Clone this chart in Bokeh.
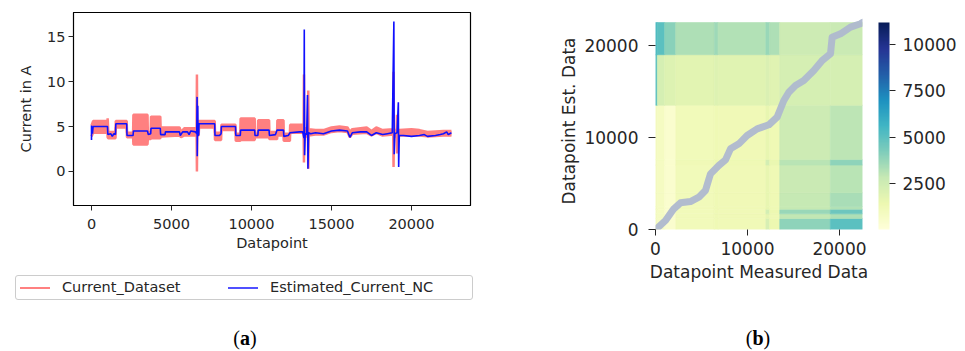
import numpy as np
from bokeh.plotting import figure
from bokeh.layouts import row, column
from bokeh.models import (ColumnDataSource, FixedTicker, Div,
                          LinearColorMapper, ColorBar, Range1d)
from bokeh.palettes import YlGnBu9
from bokeh.embed import file_html
from bokeh.resources import INLINE

# ---------------- Panel (a) data ----------------
blue_x = [0, 0, 60, 100, 1000, 1020, 1200, 1300, 1400, 1500, 1520, 2200, 2220, 2600, 2620, 3500,
          3550, 3700, 3720, 4300, 4320, 4600, 4620, 5500, 5550, 5700, 6000, 6100, 6200, 6500,
          6580, 6600, 6610, 6640, 6660, 6700, 6720, 7700, 7720, 8000, 8100, 8120, 9000, 9020,
          9300, 9320, 10200, 10220, 10400, 10420, 11100, 11120, 11500, 11600, 12000, 12020,
          12300, 12400, 13000, 13200, 13280, 13300, 13320, 13360, 13450, 13500, 13530, 13570,
          13700, 14000, 14500, 15000, 15500, 16000, 16150, 16300, 16800, 17200, 17500, 17800,
          18200, 18500, 18800, 18900, 18920, 18960, 19100, 19180, 19200, 19240, 19500, 20000,
          20500, 20800, 21000, 21500, 21800, 22000, 22200, 22300, 22500]
blue_y = [3.5, 5.1, 4.2, 5.0, 5.0, 4.1, 4.2, 3.9, 4.2, 4.1, 5.3, 5.3, 4.0, 4.0, 4.5, 4.5,
          4.1, 4.2, 4.8, 4.8, 4.1, 4.1, 4.4, 4.4, 4.0, 4.4, 4.4, 4.1, 4.5, 4.4,
          4.2, 8.3, 1.7, 7.3, 4.0, 4.1, 5.3, 5.3, 4.0, 4.0, 4.2, 5.0, 5.0, 4.0,
          4.0, 4.6, 4.6, 4.0, 4.0, 4.6, 4.6, 4.0, 4.1, 4.6, 4.6, 3.9,
          4.0, 4.3, 4.4, 4.4, 3.7, 15.8, 1.8, 4.2, 4.1, 8.5, 0.3, 4.3,
          4.2, 4.3, 4.2, 4.5, 4.6, 4.5, 3.8, 4.3, 4.4, 4.4, 4.0, 4.3,
          4.1, 4.2, 4.3, 16.7, 1.9, 4.2, 4.3, 7.7, 0.5, 4.0, 4.0, 3.9,
          4.0, 4.1, 3.9, 4.0, 4.1, 4.2, 4.4, 4.1, 4.3]

red_x = [0, 100, 1000, 1010, 1050, 1500, 1520, 2200, 2220, 2600, 2620, 3500, 3520, 3700, 3720,
         4300, 4320, 5500, 5600, 5800, 6570, 6590, 6610, 6700, 6720, 7700, 7720, 8100, 8120,
         9000, 9020, 9300, 9320, 10200, 10220, 10400, 10420, 11100, 11120, 11600, 11620, 12000,
         12020, 12400, 12420, 13200, 13260, 13280, 13300, 13480, 13530, 13550, 13570, 14000,
         14500, 15000, 15500, 16000, 16150, 16300, 17200, 17500, 17800, 18200, 18860, 18880,
         18900, 19080, 19100, 19150, 19250, 20000, 20500, 21000, 22000, 22500]
red_lo = [3.9, 4.3, 4.3, 3.8, 3.7, 3.7, 4.9, 4.9, 3.8, 3.8, 3.0, 3.0, 3.6, 3.6, 3.7,
          3.7, 3.9, 4.0, 3.8, 4.0, 4.0, 0.0, 4.0, 4.0, 4.9, 4.9, 3.5, 3.5, 4.6,
          4.6, 3.4, 3.4, 3.5, 3.5, 3.8, 3.8, 3.8, 3.8, 3.6, 3.6, 4.0, 4.0,
          3.4, 3.4, 4.3, 4.3, 4.3, 1.0, 3.9, 3.9, 3.9, 0.3, 4.0, 4.1,
          4.1, 4.4, 4.5, 4.4, 3.8, 4.2, 4.3, 4.0, 4.3, 4.0, 4.1, 0.5,
          3.9, 3.9, 2.0, 3.9, 4.0, 4.0, 4.0, 3.9, 4.0, 4.0]
red_hi = [5.1, 5.6, 5.6, 5.9, 4.4, 4.4, 5.6, 5.6, 4.3, 4.3, 6.3, 6.3, 4.4, 4.4, 6.1,
          6.1, 4.9, 4.9, 4.4, 4.8, 4.8, 10.8, 4.6, 4.6, 5.6, 5.6, 4.3, 4.3, 5.2,
          5.2, 4.2, 4.2, 5.9, 5.9, 4.2, 4.2, 5.7, 5.7, 4.4, 4.4, 5.7, 5.7,
          4.2, 4.2, 5.2, 5.2, 5.2, 10.8, 4.8, 4.8, 4.8, 9.0, 4.7, 4.6,
          4.6, 4.9, 5.0, 4.9, 4.4, 4.7, 4.9, 4.5, 4.9, 4.6, 4.7, 11.1,
          4.6, 4.6, 6.3, 4.6, 4.6, 4.7, 4.6, 4.4, 4.5, 4.5]

a_xticks = [0, 5000, 10000, 15000, 20000]
a_yticks = [0, 5, 10, 15]
series_names = ["Current_Dataset", "Estimated_Current_NC"]
caption_letters = ["a", "b"]

# ---------------- Panel (b) data ----------------
hm_x_edges = [0, 200, 1000, 2200, 6400, 6800, 12000, 12400, 13500, 19000, 22500]
hm_y_edges = [0, 1200, 1700, 2200, 2500, 4000, 7000, 7600, 13500, 19000, 22500]
hm_values = [  # rows from bottom (y=0) to top
    [900, 800, 400, 1100, 1300, 1200, 2200, 1400, 3900, 5000],
    [900, 800, 400, 1100, 1300, 1200, 1700, 1300, 2900, 3300],
    [900, 800, 400, 1100, 1300, 1200, 2400, 1400, 3700, 4600],
    [900, 800, 400, 1100, 1300, 1200, 1600, 1300, 2800, 3200],
    [900, 800, 400, 1100, 1300, 1200, 1600, 1300, 2800, 3400],
    [900, 800, 400, 1100, 1300, 1200, 1600, 1300, 2700, 3100],
    [900, 800, 400, 1200, 1400, 1300, 2400, 1500, 3100, 3900],
    [900, 800, 400, 1100, 1300, 1200, 1600, 1300, 2600, 3000],
    [5000, 2300, 2000, 1800, 2000, 1900, 2100, 1900, 2300, 2300],
    [5300, 5000, 4000, 3300, 3600, 3200, 3700, 3300, 2600, 2700],
]
path_x = [0, 180, 1090, 1990, 2720, 3800, 4710, 5430, 5980, 6880, 7610, 8150, 9060, 9960, 11050,
          12320, 13220, 13950, 14490, 15220, 16120, 17210, 18120, 19020, 19200, 20110, 21200,
          22280, 22500]
path_y = [0, 140, 980, 2250, 2900, 3040, 3510, 4240, 6050, 6960, 7570, 8770, 9310, 10220, 10940,
          11380, 12210, 14020, 14920, 15650, 16200, 17280, 18370, 19100, 20900, 21270, 22000,
          22360, 22500]
b_max = 22500
b_ticks = [0, 10000, 20000]
cb_ticks = [2500, 5000, 7500, 10000]
cb_low, cb_high = 0, 11200

TXT = "#262626"
RED = "#ff8080"
BLUE = "#1010ff"


def interp_palette(pal, n=256):
    rgb = np.array([[int(c[i:i + 2], 16) for i in (1, 3, 5)] for c in pal], float)
    t = np.linspace(0, 1, len(pal))
    tt = np.linspace(0, 1, n)
    ch = [np.interp(tt, t, rgb[:, k]) for k in range(3)]
    return ["#%02x%02x%02x" % (int(round(ch[0][i])), int(round(ch[1][i])), int(round(ch[2][i])))
            for i in range(n)]


def style_axis(ax, size):
    ax.major_label_text_font = "DejaVu Sans"
    ax.major_label_text_font_size = size
    ax.major_label_text_color = TXT
    ax.axis_label_text_font = "DejaVu Sans"
    ax.axis_label_text_font_size = size
    ax.axis_label_text_font_style = "normal"
    ax.axis_label_text_color = TXT
    ax.minor_tick_line_color = None
    ax.major_tick_in = 0
    ax.major_tick_out = 5
    ax.major_tick_line_color = TXT


def caption_html(letter, center_x, top, width):
    return ('<div style="position:absolute;left:%dpx;top:%dpx;width:%dpx;text-align:center;'
            'font-family:\'Liberation Serif\';font-size:20px;line-height:23px;color:black;">'
            '(<b>%s</b>)</div>' % (center_x - width // 2, top, width, letter))


# ---------------- Panel (a) ----------------
A_W, A_H = 500, 261
pa = figure(frame_width=397, frame_height=193, min_border_left=73, min_border_right=30,
            min_border_top=12, min_border_bottom=56, x_range=Range1d(-1125, 23690),
            y_range=Range1d(-3.8, 17.7), output_backend="svg", toolbar_location=None)
pa.xgrid.visible = False
pa.ygrid.visible = False
pa.outline_line_color = "black"
pa.outline_line_alpha = 1
pa.outline_line_width = 1.2
style_axis(pa.xaxis[0], "14.5px")
style_axis(pa.yaxis[0], "14.5px")
pa.xaxis.ticker = FixedTicker(ticks=a_xticks)
pa.yaxis.ticker = FixedTicker(ticks=a_yticks)
pa.xaxis.axis_label = "Datapoint"
pa.yaxis.axis_label = "Current in A"
pa.xaxis.major_label_standoff = 8
pa.xaxis.axis_label_standoff = 3
pa.yaxis.major_label_standoff = 3
pa.yaxis.axis_label_standoff = 10
pa.xaxis.axis_line_color = "black"
pa.yaxis.axis_line_color = "black"

red_src = ColumnDataSource(dict(x=red_x, lo=red_lo, hi=red_hi))
pa.varea(x="x", y1="lo", y2="hi", source=red_src, fill_color=RED, fill_alpha=1)
pa.line("x", "hi", source=red_src, line_color=RED, line_width=2.5)
pa.line("x", "lo", source=red_src, line_color=RED, line_width=2.5)
pa.line(blue_x, blue_y, line_color=BLUE, line_width=1.6)

# legend + caption below panel (a)
leg_html = (
    '<div style="position:relative;width:500px;height:90px;font-family:\'DejaVu Sans\';">'
    '<div style="position:absolute;left:15px;top:14px;width:458px;height:25px;'
    'border:1px solid #cccccc;border-radius:3px;background:white;"></div>'
    '<div style="position:absolute;left:20px;top:26px;width:30px;height:2px;background:%s;"></div>'
    '<div style="position:absolute;left:62px;top:18px;font-size:14.5px;line-height:17px;'
    'color:%s;white-space:nowrap;">%s</div>'
    '<div style="position:absolute;left:228px;top:26px;width:30px;height:2px;background:%s;"></div>'
    '<div style="position:absolute;left:270px;top:18px;font-size:14.5px;line-height:17px;'
    'color:%s;white-space:nowrap;">%s</div>'
    '%s</div>'
) % (RED, TXT, series_names[0], "#5050ff", TXT, series_names[1],
     caption_html(caption_letters[0], 245, 66, 80))
div_a = Div(text=leg_html, width=A_W, height=351 - A_H, margin=(0, 0, 0, 0))

# ---------------- Panel (b) ----------------
B_FRAME_H = 217
pb = figure(frame_width=207, frame_height=B_FRAME_H, min_border_left=155, min_border_right=98,
            min_border_top=12, min_border_bottom=56, x_range=Range1d(0, b_max),
            y_range=Range1d(0, b_max * B_FRAME_H / 207.0), output_backend="svg",
            toolbar_location=None)
pb.xgrid.visible = False
pb.ygrid.visible = False
pb.outline_line_color = None
style_axis(pb.xaxis[0], "17px")
style_axis(pb.yaxis[0], "17px")
pb.xaxis.ticker = FixedTicker(ticks=b_ticks)
pb.yaxis.ticker = FixedTicker(ticks=b_ticks)
pb.xaxis.major_tick_out = 6
pb.yaxis.major_tick_out = 7
pb.xaxis.axis_line_color = None
pb.yaxis.axis_line_color = None
pb.xaxis.axis_label = "Datapoint Measured Data"
pb.yaxis.axis_label = "Datapoint Est. Data"
pb.xaxis.major_label_standoff = 6
pb.xaxis.axis_label_standoff = 4
pb.yaxis.major_label_standoff = 10
pb.yaxis.axis_label_standoff = 2

palette = interp_palette(list(YlGnBu9)[::-1], 256)
mapper = LinearColorMapper(palette=palette, low=cb_low, high=cb_high)

L, R, B, T, V = [], [], [], [], []
for j in range(len(hm_y_edges) - 1):
    for i in range(len(hm_x_edges) - 1):
        L.append(hm_x_edges[i]); R.append(hm_x_edges[i + 1])
        B.append(hm_y_edges[j]); T.append(hm_y_edges[j + 1])
        V.append(hm_values[j][i])
hm_src = ColumnDataSource(dict(left=L, right=R, bottom=B, top=T, v=V))
pb.quad(left="left", right="right", bottom="bottom", top="top", source=hm_src,
        fill_color={"field": "v", "transform": mapper},
        line_color={"field": "v", "transform": mapper}, line_width=0.6)
pb.line(path_x, path_y, line_color="#aeb8cf", line_alpha=0.95, line_width=7,
        line_join="round", line_cap="round")

cb = ColorBar(color_mapper=mapper, width=11, height=207, padding=0, margin=0,
              location=(223, 0), ticker=FixedTicker(ticks=cb_ticks),
              major_tick_in=0, major_tick_out=6, major_tick_line_color=TXT,
              minor_tick_line_color=None, label_standoff=7,
              major_label_text_font="DejaVu Sans", major_label_text_font_size="17px",
              major_label_text_color=TXT, bar_line_color=None, border_line_color=None,
              background_fill_color=None)
pb.add_layout(cb)

B_H = 12 + B_FRAME_H + 56
capb_html = ('<div style="position:relative;width:460px;height:%dpx;">%s</div>'
             % (351 - B_H, caption_letters and caption_html(caption_letters[1], 258, 338 - B_H - 11, 80)))
div_b = Div(text=capb_html, width=460, height=351 - B_H, margin=(0, 0, 0, 0))

layout = row(column(pa, div_a), column(pb, div_b))
open("out.html", "w").write(file_html(layout, INLINE))
